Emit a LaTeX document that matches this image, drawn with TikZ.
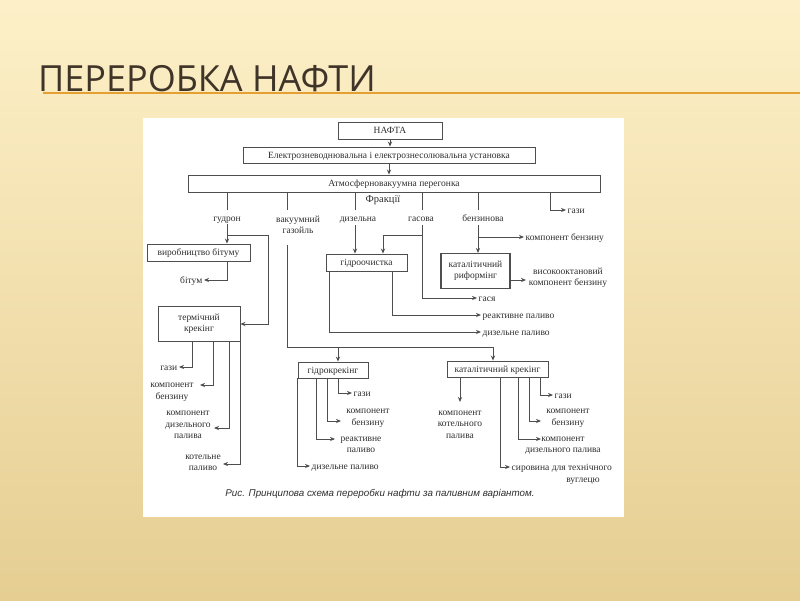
\documentclass[tikz,border=0pt]{standalone}
\usepackage{fontspec}
\setmainfont{Liberation Serif}
\newfontfamily\titlefont{Open Sans}
\newfontfamily\capfont{Liberation Sans}
\usetikzlibrary{arrows.meta}
\definecolor{lc}{HTML}{4E4E4E}
\definecolor{tc}{HTML}{2E2E2E}
\definecolor{bgtop}{HTML}{FDF0C8}
\definecolor{bgbot}{HTML}{E6CE92}
\definecolor{titlec}{HTML}{3F3428}
\definecolor{orl}{HTML}{E4A032}
\newcommand\dfont{\fontsize{9.5}{11.5}\selectfont}
\newcommand\ffont{\fontsize{10.5}{12}\selectfont}
\begin{document}
\begin{tikzpicture}[x=1pt,y=-1pt,
  box/.style={draw=lc, line width=0.9pt, fill=white, inner sep=1pt, text=tc, font=\dfont, align=center},
  one/.style={text height=7.2pt, text depth=1.2pt},
  txt/.style={inner sep=1.5pt, text=tc, font=\dfont, align=center},
  ln/.style={draw=lc, line width=0.85pt},
  arr/.style={ln, -{Stealth[length=5pt,width=4.2pt]}}]
\useasboundingbox (0,0) rectangle (800,600);
\shade[top color=bgtop, bottom color=bgbot] (0,0) rectangle (800,600);
% title
\node[anchor=base west, inner sep=0, font=\titlefont\fontsize{36}{36}\selectfont, text=titlec] (title) at (38,91) {ПЕРЕРОБКА НАФТИ};
\draw[orl, line width=2.4pt] (43,92.8) -- (800,92.8);
% panel
\fill[white] (143,118) rectangle (624,517);
% boxes
\node[box, one, minimum width=104pt, minimum height=17pt] (nafta) at (390,130.5) {НАФТА};
\node[box, one, minimum width=292pt, minimum height=16pt] (ust) at (389,155) {Електрозневоднювальна і електрознесолювальна установка};
\node[box, one, minimum width=412pt, minimum height=17pt] (atm) at (394,183.5) {Атмосферновакуумна перегонка};
\node[box, one, minimum width=103pt, minimum height=17pt] (vb) at (198.5,252.5) {виробництво бітуму};
\node[box, one, minimum width=81pt, minimum height=17pt] (go) at (366.5,262.5) {гідроочистка};
\node[box, minimum width=69pt, minimum height=35pt, line width=1.1pt] (rif) at (475.5,271) {каталітичний\\риформінг};
\node[box, minimum width=82pt, minimum height=35pt] (tk) at (199,324) {термічний\\крекінг};
\node[box, one, minimum width=70pt, minimum height=16pt] (hk) at (333,370) {гідрокрекінг};
\node[box, one, minimum width=101pt, minimum height=16pt] (kk) at (497.5,369) {каталітичний крекінг};
\draw[arr] (nafta.south) -- (nafta.south |- ust.north);
\draw[arr] (ust.south) -- (ust.south |- atm.north);
% fraction labels
\node[txt, one] (l1) at (227,218) {гудрон};
\node[txt] (l2) at (298,225) {вакуумний\\газойль};
\node[txt, one] (l3) at (358,218) {дизельна};
\node[txt, one] (l4) at (421,218) {гасова};
\node[txt, one] (l5) at (483,218) {бензинова};
\node[txt, font=\ffont] (fr) at (383,200.5) {Фракції};
\node[txt, one, anchor=west] (g0) at (566,210) {гази};
\draw[ln] ([xshift=-167pt]atm.south) -- ++(0,18);
\draw[ln] ([xshift=-107pt]atm.south) -- ++(0,18);
\draw[ln] ([xshift=-39pt]atm.south) -- ++(0,18);
\draw[ln] ([xshift=28pt]atm.south) -- ++(0,18);
\draw[ln] ([xshift=84pt]atm.south) -- ++(0,18);
\draw[arr] ([xshift=156pt]atm.south) |- (g0.west);
% гудрон
\coordinate (j1) at (227,235);
\draw[arr] (l1.south) -- ([xshift=28.5pt]vb.north);
\draw[arr] (j1) -- (268,235) |- (tk.east);
\node[txt, one, anchor=east] (bit) at (204,280) {бітум};
\draw[arr] ([xshift=28.5pt]vb.south) |- (bit.east);
% вакуумний газойль
\coordinate (v0) at (287,245);
\coordinate (v1) at (287,347);
\coordinate (v2) at (338,347);
\draw[arr] (v0) -- (v1) -| ([xshift=-4.5pt]kk.north);
\draw[arr] (v2) -- ([xshift=5pt]hk.north);
% дизельна, гасова
\draw[arr] (355,225) -- ([xshift=-11.5pt]go.north);
\node[txt, one, anchor=west] (gas) at (477,298) {гася};
\draw[arr] (422,225) |- (gas.west);
\draw[arr] (422,235) -| ([xshift=16.5pt]go.north);
\node[txt, one, anchor=west] (rp) at (481,315) {реактивне паливо};
\draw[arr] ([xshift=25.5pt]go.south) |- (rp.west);
\node[txt, one, anchor=west] (dp) at (481,332) {дизельне паливо};
\draw[arr] ([xshift=-37.5pt]go.south) |- (dp.west);
% бензинова
\node[txt, one, anchor=west] (kb1) at (524,237) {компонент бензину};
\draw[arr] (478,225) -- ([xshift=2.5pt]rif.north);
\draw[arr] (478,237) -- (kb1.west);
\coordinate (rt) at (526,280);
\draw[arr] ([yshift=-9pt]rif.east) -- (rt);
\node[txt] (vk) at (568,278) {високооктановий\\компонент бензину};
% термічний крекінг
\node[txt, one, anchor=east] (t1) at (179,367) {гази};
\draw[arr] ([xshift=-7pt]tk.south) |- (t1.east);
\coordinate (t2a) at (200,385);
\node[txt] (t2) at (172,392.5) {компонент\\бензину};
\draw[arr] ([xshift=14pt]tk.south) |- (t2a);
\coordinate (t3a) at (214,428);
\node[txt] (t3) at (188,425) {компонент\\дизельного\\палива};
\draw[arr] ([xshift=30pt]tk.south) |- (t3a);
\coordinate (t4a) at (223,464);
\node[txt] (t4) at (203,463) {котельне\\паливо};
\draw[arr] (tk.south east) |- (t4a);
% гідрокрекінг
\node[txt, one, anchor=west] (h1) at (352,393) {гази};
\draw[arr] ([xshift=5pt]hk.south) |- (h1.west);
\coordinate (h2a) at (341,421);
\node[txt] (h2) at (368,418.5) {компонент\\бензину};
\draw[arr] ([xshift=-6pt]hk.south) |- (h2a);
\coordinate (h3a) at (335,439);
\node[txt] (h3) at (361,445) {реактивне\\паливо};
\draw[arr] ([xshift=-17pt]hk.south) |- (h3a);
\node[txt, one, anchor=west] (h4) at (310,466) {дизельне паливо};
\draw[arr] (hk.south west) |- (h4.west);
% каталітичний крекінг
\coordinate (k0a) at (460,402);
\draw[arr] ([xshift=-37.5pt]kk.south) -- (k0a);
\node[txt] (k0) at (460,424.5) {компонент\\котельного\\палива};
\node[txt, one, anchor=west] (k1) at (553,395) {гази};
\draw[arr] ([xshift=42.5pt]kk.south) |- (k1.west);
\coordinate (k2a) at (541,421);
\node[txt] (k2) at (568,418.5) {компонент\\бензину};
\draw[arr] ([xshift=31.5pt]kk.south) |- (k2a);
\coordinate (k3a) at (541,439);
\node[txt] (k3) at (563,445.5) {компонент\\дизельного палива};
\draw[arr] ([xshift=20.5pt]kk.south) |- (k3a);
\node[txt, one, anchor=west] (k4) at (510,467) {сировина для технічного};
\draw[arr] ([xshift=2.5pt]kk.south) |- (k4.west);
\node[txt, one] (k4b) at (583,479) {вуглецю};
% caption
\node[inner sep=0, text=tc, font=\capfont\itshape\fontsize{9.8}{11}\selectfont] (cap) at (380,494) {Рис. Принципова схема переробки нафти за паливним варіантом.};
\end{tikzpicture}
\end{document}
